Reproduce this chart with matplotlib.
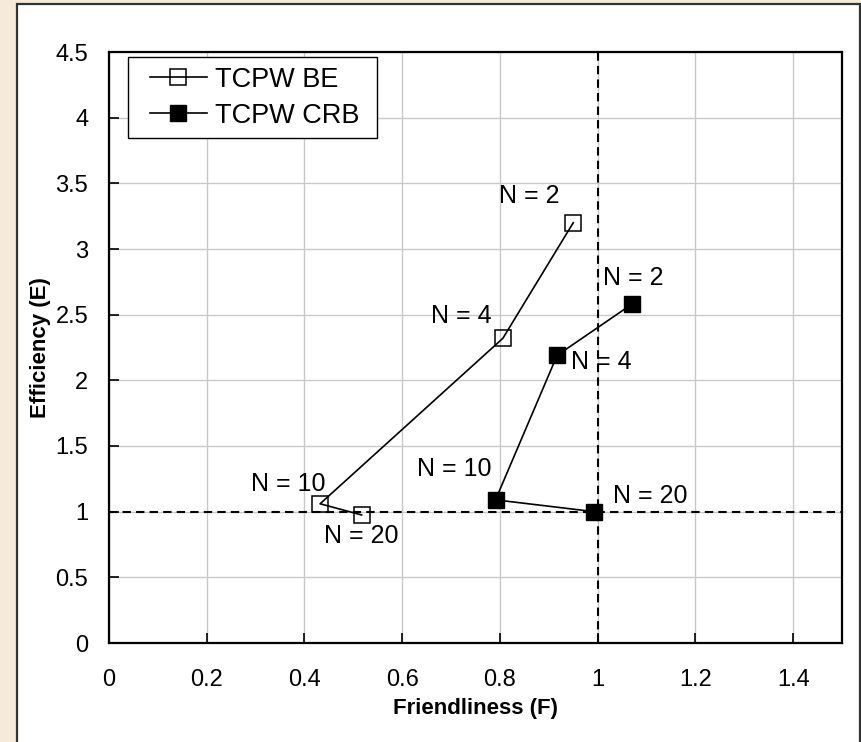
import matplotlib
matplotlib.use("Agg")
import matplotlib.pyplot as plt
from matplotlib.patches import Rectangle
from matplotlib.legend_handler import HandlerLine2D

plt.rcParams['font.family'] = ['Liberation Sans', 'DejaVu Sans']

# данные
n_values = [2, 4, 10, 20]
f_be = [0.95, 0.806, 0.432, 0.517]
e_be = [3.2, 2.32, 1.06, 0.975]
f_crb = [1.07, 0.917, 0.791, 0.993]
e_crb = [2.58, 2.19, 1.09, 1.0]

x_ticks = [0, 0.2, 0.4, 0.6, 0.8, 1, 1.2, 1.4]
y_ticks = [0, 0.5, 1, 1.5, 2, 2.5, 3, 3.5, 4, 4.5]

# смещения подписей N = ... (в точках)
be_offsets = [(-32, 19), (-30, 16), (-23, 14), (0, -15)]
crb_offsets = [(1, 19), (32, -5), (-30, 22), (40, 11)]

fig = plt.figure(figsize=(8.62, 7.42), dpi=100, facecolor='#f6ebda')
fig.patches.append(Rectangle((17 / 862, -0.01), (860 - 17) / 862, 1.01 - 4 / 742,
                             transform=fig.transFigure, facecolor='white',
                             edgecolor='#333333', lw=1.6, zorder=-5))

ax = fig.add_axes([109 / 862, 1 - 643 / 742, (842 - 109) / 862, (643 - 52) / 742])

be_line, = ax.plot(f_be, e_be, color='black', lw=1.2, marker='s', markersize=12,
                   markerfacecolor='none', markeredgecolor='black', markeredgewidth=1.1,
                   label='TCPW BE ', zorder=4)
crb_line, = ax.plot(f_crb, e_crb, color='black', lw=1.2, marker='s', markersize=12,
                    markerfacecolor='black', markeredgecolor='black',
                    label='TCPW CRB ', zorder=4)

for x, y, n, off in zip(f_be, e_be, n_values, be_offsets):
    ax.annotate(f'N = {n}', (x, y), xytext=off, textcoords='offset points',
                ha='center', va='center', fontsize=18)
for x, y, n, off in zip(f_crb, e_crb, n_values, crb_offsets):
    ax.annotate(f'N = {n}', (x, y), xytext=off, textcoords='offset points',
                ha='center', va='center', fontsize=18)

ax.axvline(1, color='black', ls='--', lw=1.5, dashes=(4, 2.5), zorder=3)
ax.axhline(1, color='black', ls='--', lw=1.5, dashes=(4, 2.5), zorder=3)

ax.set_xlim(0, 1.5)
ax.set_ylim(0, 4.5)
ax.set_xticks(x_ticks)
ax.set_yticks(y_ticks)
ax.set_xticklabels([f'{t:g}' for t in x_ticks])
ax.set_yticklabels([f'{t:g}' for t in y_ticks])
ax.grid(True, color='#c8c8c8', lw=1)
ax.set_axisbelow(True)
ax.tick_params(axis='x', direction='in', length=7, width=1.2, pad=19, labelsize=17)
ax.tick_params(axis='y', direction='in', length=7, width=1.2, pad=15, labelsize=17)
for sp in ax.spines.values():
    sp.set_linewidth(1.6)

ax.set_xlabel('Friendliness (F)', fontsize=16, fontweight='bold', labelpad=5)
ax.set_ylabel('Efficiency (E)', fontsize=16, fontweight='bold', labelpad=3)

# отступ слева у маркера в легенде
hmap = {be_line: HandlerLine2D(xpad=0.45), crb_line: HandlerLine2D(xpad=0.45)}
leg = ax.legend(handler_map=hmap, loc='upper left', bbox_to_anchor=(0.026, 0.9915),
                borderaxespad=0, fontsize=19.5, fancybox=False, edgecolor='black',
                framealpha=1, handlelength=2.55, handletextpad=0.3,
                labelspacing=0.36, borderpad=0.36)
leg.get_frame().set_linewidth(1)

fig.savefig('out.png', dpi=100, facecolor=fig.get_facecolor())
